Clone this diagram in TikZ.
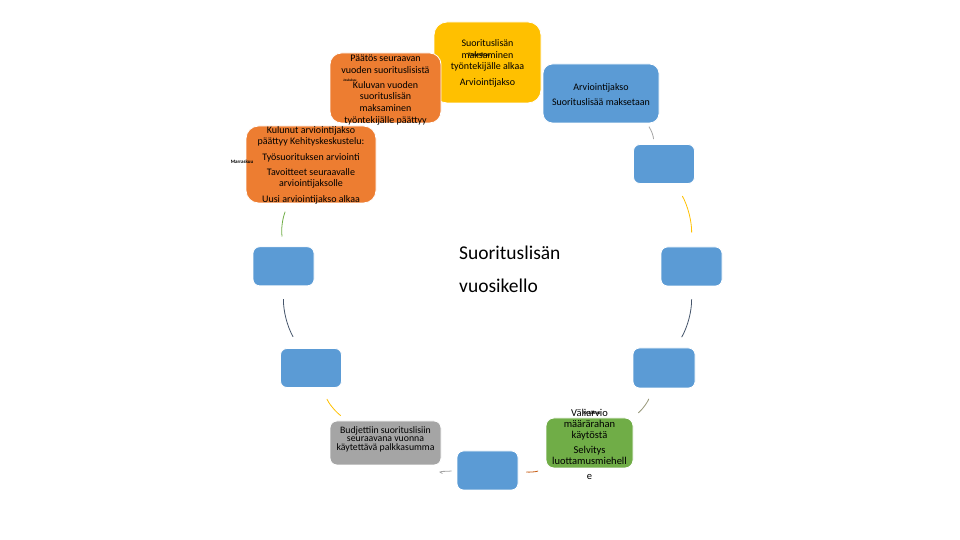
\documentclass[tikz,border=0pt]{standalone}
\usepackage{fontspec}
\setmainfont{Carlito}
\usepackage{xcolor}
\usepackage{tikz}
\definecolor{clkgold}{RGB}{255,192,0}
\definecolor{clkorange}{RGB}{237,125,49}
\definecolor{clkblue}{RGB}{91,155,213}
\definecolor{clkgray}{RGB}{165,165,165}
\definecolor{clkgreen}{RGB}{112,173,71}
\definecolor{clkslate}{RGB}{68,84,106}
\definecolor{clkrust}{RGB}{197,90,17}
\definecolor{clkolive}{RGB}{150,150,120}

\begin{document}
\begin{tikzpicture}[
    x=1pt, y=1pt,
    tile/.style={rectangle, draw=white, line width=0.8pt, rounded corners=6.5pt, inner sep=0pt, minimum width=61pt, minimum height=39pt, fill=clkblue},
    boxtext/.style={align=center, inner sep=0pt, font=\fontsize{10}{11.7}\selectfont},
    tag/.style={inner sep=0pt, font=\fontsize{5}{5}\selectfont\bfseries},
    ring/.style={line width=0.8pt}
]
    \useasboundingbox (0,0) rectangle (960,540);

    % Boxes round the clock
    \node[tile, fill=clkgold, minimum width=107pt, minimum height=81pt, rounded corners=13pt] (jan) at (487.5,477.5) {};
    \node[tile, minimum width=116pt, minimum height=59pt, rounded corners=9.5pt] (feb) at (601,446.5) {};
    \node[tile] (mar) at (664,376) {};
    \node[tile] (apr) at (691.5,273.5) {};
    \node[tile, minimum width=62pt, minimum height=40pt] (may) at (664,172) {};
    \node[tile, fill=clkgreen, minimum width=87pt, minimum height=50pt, rounded corners=8pt] (jun) at (589.5,97) {};
    \node[tile] (jul) at (487.5,69.5) {};
    \node[tile, fill=clkgray, minimum width=111pt, minimum height=44pt, rounded corners=7pt] (aug) at (385.5,97) {};
    \node[tile] (sep) at (311,172) {};
    \node[tile] (oct) at (283.5,273.7) {};
    \node[tile, fill=clkorange, minimum width=130pt, minimum height=77pt, rounded corners=12.5pt] (nov) at (311,375.5) {};
    \node[tile, fill=clkorange, minimum width=111pt, minimum height=70pt, rounded corners=11.5pt] (dec) at (385.5,452) {};

    % Box texts
    \node[boxtext] (jan-txt) at (487.5,476.7) {Suorituslisän\\maksaminen\\työntekijälle alkaa\\[4pt]Arviointijakso};
    \node[boxtext] (feb-txt) at (601,445.5) {Arviointijakso\\[4pt]Suorituslisää maksetaan};
    \node[boxtext, font=\fontsize{10.5}{11}\selectfont] (jun-txt) at (589.5,96.1) {Väliarvio\\määrärahan\\käytöstä\\[4pt]Selvitys\\luottamusmiehell\\[4pt]e};
    \node[boxtext, font=\fontsize{9.8}{8.4}\selectfont] (aug-txt) at (385.5,100.7) {Budjettiin suorituslisiin\\seuraavana vuonna\\käytettävä palkkasumma};
    \node[boxtext] (nov-txt) at (311,375) {Kulunut arviointijakso\\päättyy Kehityskeskustelu:\\[3.5pt]Työsuorituksen arviointi\\[3.5pt]Tavoitteet seuraavalle\\arviointijaksolle\\[3.5pt]Uusi arviointijakso alkaa};
    \node[boxtext] (dec-txt) at (385.5,450.1) {Päätös seuraavan\\vuoden suorituslisistä\\[3.5pt]Kuluvan vuoden\\suorituslisän\\maksaminen\\työntekijälle päättyy};

    % Month tags
    \node[tag] (jan-tag) at (479,485) {Tammikuu};
    \node[tag, font=\fontsize{3.5}{3.5}\selectfont\bfseries] (dec-tag) at (350,460) {Joulukuu};
    \node[tag] (nov-tag) at (242,378.3) {Marraskuu};
    \node[tag] (jun-tag) at (592,127.3) {Kesäkuu};

    % Title
    \node[anchor=west, align=left, inner sep=0pt, font=\fontsize{19.5}{33}\selectfont] (clock) at (459,271) {Suorituslisän\\vuosikello};

    % Ring arcs
    \draw[ring, clkgray, shorten <=4pt, shorten >=5pt] (feb) to[bend left=15] (mar);
    \draw[ring, clkgold, shorten <=14pt, shorten >=14pt] (mar) to[bend left=15] (apr);
    \draw[ring, clkslate, shorten <=13pt, shorten >=12pt] (apr) to[bend left=15] (may);
    \draw[ring, clkolive, shorten <=11pt, shorten >=7pt] (may) to[bend left=15] (jun);
    \draw[ring, clkrust, shorten <=8pt, shorten >=8pt] (jun) to[bend left=15] (jul);
    \draw[ring, clkgray, shorten <=5pt, shorten >=20pt] (jul) to[bend left=15] (aug);
    \draw[ring, clkgold, shorten <=8pt, shorten >=12pt] (aug) to[bend left=15] (sep);
    \draw[ring, clkslate, shorten <=13pt, shorten >=13pt] (sep) to[bend left=15] (oct);
    \draw[ring, clkgreen, shorten <=10pt, shorten >=9pt] (oct) to[bend left=15] (nov);
\end{tikzpicture}
\end{document}
